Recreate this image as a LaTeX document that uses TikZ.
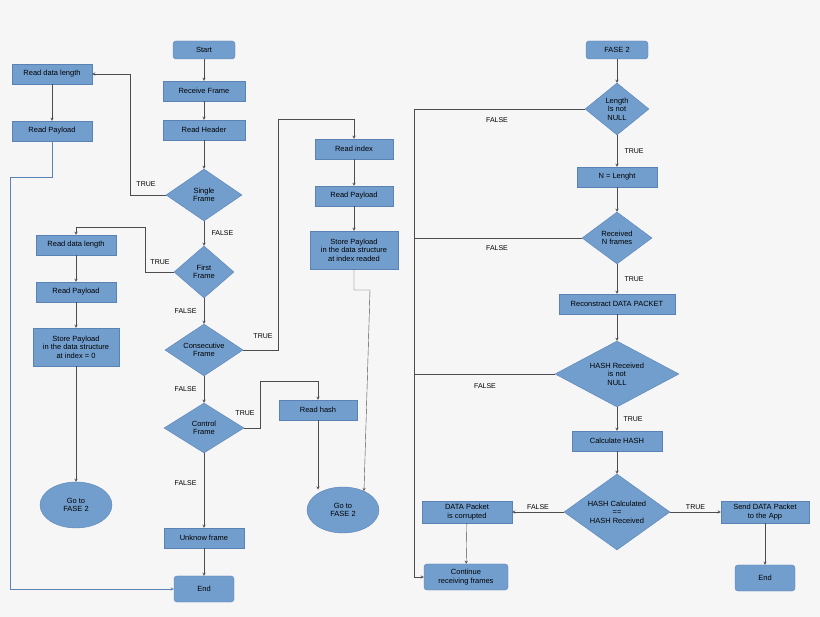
\documentclass[tikz,border=0pt]{standalone}
\usepackage{fontspec}
\setmainfont{Liberation Sans}
\usetikzlibrary{shapes.geometric,arrows}
\definecolor{boxblue}{RGB}{114,158,206}
\definecolor{boxline}{RGB}{90,130,180}
\definecolor{bg}{RGB}{246,246,246}
\begin{document}
\begin{tikzpicture}[x=1pt,y=-1pt,>=stealth,font=\fontsize{7.5}{8.5}\selectfont,
    box/.style={rectangle,fill=boxblue,draw=boxline,align=center,minimum height=20pt,inner sep=1pt},
    term/.style={box,rounded corners=3pt},
    dec/.style={diamond,fill=boxblue,draw=boxline,align=center,aspect=1.4,inner sep=0pt},
    goto/.style={ellipse,fill=boxblue,draw=boxline,align=center,minimum width=72pt,minimum height=46pt},
    line/.style={->,draw=black!70,thin},
    lab/.style={font=\fontsize{7}{8}\selectfont}]
    \fill[bg] (0,0) rectangle (820,617);
    \useasboundingbox (0,0) rectangle (820,617);

    % left part
    \node[term,minimum width=62pt,minimum height=18pt] (start) at (204,50) {Start};
    \node[box,minimum width=82pt] (recv) at (204,91) {Receive Frame};
    \node[box,minimum width=82pt] (hdr) at (204,130) {Read Header};
    \node[dec,minimum width=76pt,minimum height=52pt] (single) at (204,195) {Single\\Frame};
    \node[dec,minimum width=60pt,minimum height=52pt] (first) at (204,272) {First\\Frame};
    \node[dec,minimum width=78pt,minimum height=52pt] (consec) at (204,350) {Consecutive\\Frame};
    \node[dec,minimum width=80pt,minimum height=50pt] (ctrl) at (204,428) {Control\\Frame};
    \node[box,minimum width=80pt] (unknow) at (204,538) {Unknow frame};
    \node[term,minimum width=60pt,minimum height=26pt] (end) at (204,589) {End};

    \node[box,minimum width=80pt] (sdlen) at (52,74) {Read data length};
    \node[box,minimum width=80pt] (spay) at (52,131) {Read Payload};

    \node[box,minimum width=80pt] (fdlen) at (76,245) {Read data length};
    \node[box,minimum width=80pt] (fpay) at (76,292) {Read Payload};
    \node[box,minimum width=86pt,minimum height=38pt] (fstore) at (76,347) {Store Payload\\in the data structure\\at index = 0};
    \node[goto] (fgo) at (76,505) {Go to\\FASE 2};

    \node[box,minimum width=78pt] (cidx) at (354,149) {Read index};
    \node[box,minimum width=78pt] (cpay) at (354,196) {Read Payload};
    \node[box,minimum width=88pt,minimum height=38pt] (cstore) at (354,250) {Store Payload\\in the data structure\\at index readed};
    \node[box,minimum width=78pt] (hash) at (318,410) {Read hash};
    \node[goto] (cgo) at (343,510) {Go to\\FASE 2};

    \draw[line] (start) -- (recv);
    \draw[line] (recv) -- (hdr);
    \draw[line] (hdr) -- (single);
    \draw[line] (single.west) -- (130,195) |- (sdlen.east);
    \node[lab] at (146,184) {TRUE};
    \draw[line] (sdlen) -- (spay);
    \draw[->,boxline] (spay.south) |- (10,177) |- (end.west);
    \draw[line] (single) -- (first) node[lab,midway,right=4pt] {FALSE};
    \draw[line] (first.west) -- (145,272) |- (76,227) -- (fdlen.north);
    \node[lab] at (160,262) {TRUE};
    \draw[line] (fdlen) -- (fpay);
    \draw[line] (fpay) -- (fstore);
    \draw[line] (fstore) -- (fgo);
    \draw[line] (first) -- (consec) node[lab,midway,left=4pt] {FALSE};
    \draw[line] (consec.east) -- (278,350) |- (354,119) -- (cidx.north);
    \node[lab] at (263,336) {TRUE};
    \draw[line] (cidx) -- (cpay);
    \draw[line] (cpay) -- (cstore);
    \draw[line] (cstore.south) |- (370,290) -- (cgo.42);
    \draw[line] (consec) -- (ctrl) node[lab,midway,left=4pt] {FALSE};
    \draw[line] (ctrl.east) -- (260,428) |- (318,381) -- (hash.north);
    \node[lab] at (245,413) {TRUE};
    \draw[line] (hash.south) -- (hash.south |- cgo.130);
    \draw[line] (ctrl) -- (unknow) node[lab,pos=0.4,left=4pt] {FALSE};
    \draw[line] (unknow) -- (end);

    % right part
    \node[term,minimum width=62pt,minimum height=18pt] (fase) at (617,50) {FASE 2};
    \node[dec,minimum width=64pt,minimum height=52pt] (len) at (617,109) {Length\\Is not\\NULL};
    \node[box,minimum width=80pt] (nlen) at (617,177) {N = Lenght};
    \node[dec,minimum width=70pt,minimum height=52pt] (recn) at (617,238) {Received\\N frames};
    \node[box,minimum width=116pt] (recon) at (617,304) {Reconstract DATA PACKET};
    \node[dec,minimum width=124pt,minimum height=66pt] (hrec) at (617,374) {HASH Received\\is not\\NULL};
    \node[box,minimum width=90pt] (calc) at (617,441) {Calculate HASH};
    \node[dec,minimum width=106pt,minimum height=76pt] (hcmp) at (617,512) {HASH Calculated\\==\\HASH Received};
    \node[box,minimum width=90pt,minimum height=22pt] (corr) at (467,512) {DATA Packet\\is corrupted};
    \node[term,minimum width=84pt,minimum height=26pt] (cont) at (466,577) {Continue\\receiving frames};
    \node[box,minimum width=88pt,minimum height=22pt] (send) at (765,512) {Send DATA Packet\\to the App};
    \node[term,minimum width=60pt,minimum height=26pt] (rend) at (765,578) {End};

    \draw[line] (fase) -- (len);
    \draw[line] (len) -- (nlen) node[lab,midway,right=4pt] {TRUE};
    \draw[line] (nlen) -- (recn);
    \draw[line] (recn) -- (recon) node[lab,midway,right=4pt] {TRUE};
    \draw[line] (recon) -- (hrec);
    \draw[line] (hrec) -- (calc) node[lab,midway,right=3pt] {TRUE};
    \draw[line] (calc) -- (hcmp);
    \draw[line] (len.west) -- (414,109) |- (cont.west);
    \node[lab] at (497,120) {FALSE};
    \draw[draw=black!70] (recn.west) -- (414,238);
    \node[lab] at (497,248) {FALSE};
    \draw[draw=black!70] (hrec.west) -- (414,374);
    \node[lab] at (485,386) {FALSE};
    \draw[line] (hcmp.west) -- (corr.east) node[lab,midway,above=-1pt] {FALSE};
    \draw[line] (corr) -- (cont);
    \draw[line] (hcmp.east) -- (send.west) node[lab,midway,above=-1pt] {TRUE};
    \draw[line] (send) -- (rend);
\end{tikzpicture}
\end{document}
